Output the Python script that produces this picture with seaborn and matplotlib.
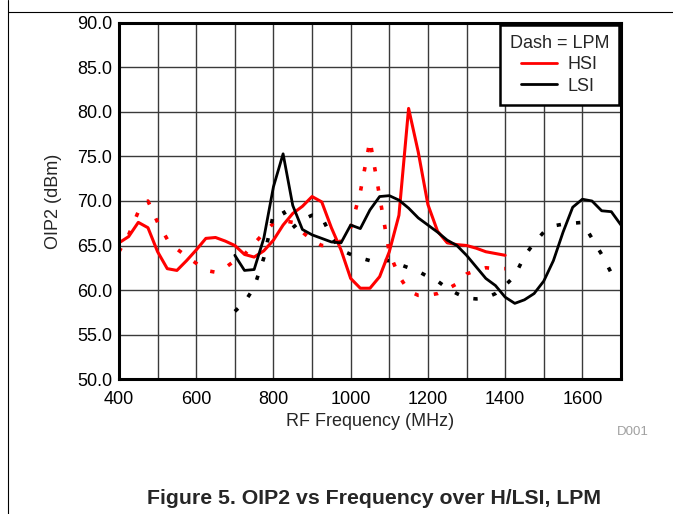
import numpy as np
import pandas as pd
import matplotlib.pyplot as plt
import matplotlib.lines as mlines
import seaborn as sns

# Frequencies (MHz) on a 25 MHz grid
freq_hsi = list(range(400, 1401, 25))
freq_lsi = list(range(700, 1701, 25))
freq_lsi_lpm = list(range(700, 1676, 25))

# HSI, solid
hsi = [65.3, 66.0, 67.6, 67.0, 64.3, 62.4, 62.2, 63.3, 64.5, 65.8,
       65.9, 65.5, 65.0, 64.0, 63.7, 64.4, 65.6, 67.3, 68.6, 69.4,
       70.5, 69.9, 67.0, 64.5, 61.3, 60.2, 60.2, 61.5, 64.3, 68.4,
       80.4, 75.5, 69.6, 66.6, 65.3, 65.1, 65.0, 64.7, 64.3, 64.1,
       63.9]
# HSI, LPM (dotted)
hsi_lpm = [64.3, 66.2, 68.8, 70.0, 67.6, 65.7, 64.6, 63.8, 63.0, 62.2,
           62.0, 62.5, 63.3, 64.0, 65.2, 66.4, 67.5, 67.8, 67.6, 66.5,
           65.6, 65.0, 65.0, 65.5, 67.0, 71.0, 76.8, 70.5, 64.2, 61.6,
           59.9, 59.4, 59.4, 59.6, 60.1, 60.7, 61.8, 62.2, 62.5, 62.4,
           62.4]
# LSI, solid
lsi = [63.9, 62.2, 62.3, 65.8, 71.6, 75.3, 69.5, 66.8, 66.2, 65.8,
       65.4, 65.3, 67.3, 66.9, 69.0, 70.5, 70.6, 70.1, 69.2, 68.1,
       67.3, 66.5, 65.6, 65.0, 63.9, 62.6, 61.3, 60.5, 59.2, 58.5,
       58.9, 59.6, 61.0, 63.3, 66.5, 69.3, 70.2, 70.0, 68.9, 68.8,
       67.3]
# LSI, LPM (dotted)
lsi_lpm = [57.6, 58.6, 60.3, 63.6, 68.5, 68.9, 67.0, 67.9, 68.4, 68.2,
           66.0, 64.5, 64.0, 63.6, 63.3, 63.3, 63.3, 62.9, 62.5, 62.1,
           61.5, 61.0, 60.2, 59.6, 59.1, 59.0, 59.1, 59.6, 60.5, 61.6,
           63.8, 65.3, 66.5, 67.2, 67.4, 67.5, 67.6, 65.8, 64.0, 61.9]

x_ticks = [400, 600, 800, 1000, 1200, 1400, 1600]
y_ticks = [50, 55, 60, 65, 70, 75, 80, 85, 90]

sns.set_style('white')
plt.rcParams['font.family'] = ['Liberation Sans', 'DejaVu Sans']

fs = 13

fig = plt.figure(figsize=(6.73, 5.14), dpi=100)
ax = fig.add_axes([0.1768, 0.2626, 0.7459, 0.6927])

dot = (0, (1.2, 4.2))
sns.lineplot(x=freq_hsi, y=hsi_lpm, color='#ff0000', lw=2.6, linestyle=dot, ax=ax)
sns.lineplot(x=freq_lsi_lpm, y=lsi_lpm, color='black', lw=2.6, linestyle=dot, ax=ax)
sns.lineplot(x=freq_hsi, y=hsi, color='#ff0000', lw=2.2, ax=ax)
sns.lineplot(x=freq_lsi, y=lsi, color='black', lw=2.0, ax=ax)

ax.set_xlim(400, 1700)
ax.set_ylim(50, 90)
ax.set_xticks(x_ticks)
ax.set_xticks(range(500, 1700, 200), minor=True)
ax.set_yticks(y_ticks)
ax.set_yticklabels([f'{v:.1f}' for v in y_ticks])
ax.grid(True, which='both', color='#3a3a3a', lw=1.0)
ax.tick_params(which='both', length=0, labelsize=fs, colors='black')
ax.tick_params(axis='x', which='both', pad=8.5)
ax.tick_params(axis='y', which='both', pad=5)
for s in ax.spines.values():
    s.set_color('black')
    s.set_linewidth(2.2)

ax.set_xlabel('RF Frequency (MHz)', fontsize=fs, labelpad=4)
ax.set_ylabel('OIP2 (dBm)', fontsize=fs, labelpad=11)

handles = [mlines.Line2D([], [], color='#ff0000', lw=2.0),
           mlines.Line2D([], [], color='black', lw=2.0)]
leg = ax.legend(handles, ['HSI', 'LSI'], title='Dash = LPM', loc='upper right',
                fontsize=fs, title_fontsize=fs, frameon=True, fancybox=False,
                framealpha=1, edgecolor='black', borderaxespad=0.1,
                handlelength=2.0, handletextpad=0.6, labelspacing=0.25,
                borderpad=0.55)
leg.get_frame().set_linewidth(1.8)
leg.set_zorder(5)

fig.text(633 / 673, 1 - 432 / 514, 'D001', fontsize=9.5, color='#a0a0a0',
         ha='center', va='center')
fig.text(374 / 673, 1 - 499 / 514, 'Figure 5. OIP2 vs Frequency over H/LSI, LPM',
         fontsize=15.3, fontweight='bold', ha='center', va='center')

# page frame lines
fig.add_artist(mlines.Line2D([8 / 673, 1], [1 - 12 / 514, 1 - 12 / 514],
                             color='black', lw=0.8))
fig.add_artist(mlines.Line2D([8 / 673, 8 / 673], [0, 1], color='black', lw=0.8))

fig.savefig('out.png', dpi=100)
